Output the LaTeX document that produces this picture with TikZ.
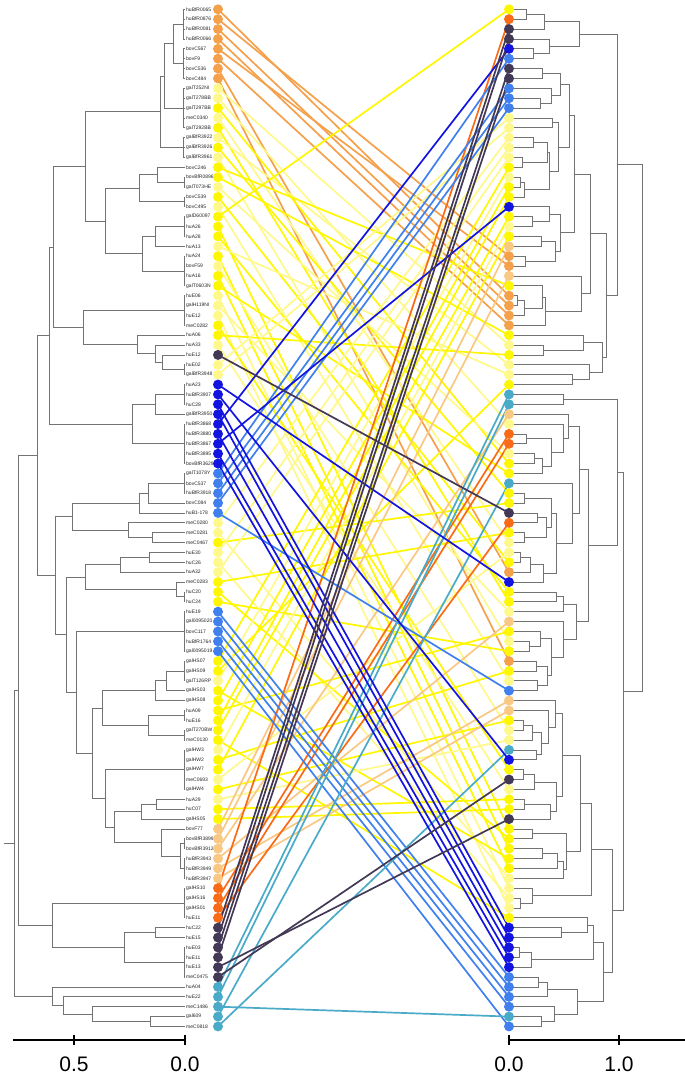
\documentclass[tikz,border=0pt]{standalone}
\usepackage{fontspec}
\setmainfont{Liberation Sans}
\usetikzlibrary{calc}

% Farben der Gruppen
\definecolor{corange}{HTML}{F5A04A}
\definecolor{cpeach}{HTML}{F9C882}
\definecolor{cdorange}{HTML}{F96B16}
\definecolor{cpurple}{HTML}{433856}
\definecolor{cblue}{HTML}{1414E0}
\definecolor{clblue}{HTML}{4080EE}
\definecolor{cteal}{HTML}{4AABC8}
\definecolor{cyellow}{HTML}{FFF700}
\definecolor{clyellow}{HTML}{FFF88A}

\tikzset{
  treeline/.style={draw=black!55, line width=0.8pt},
  link/.style={line width=1.7pt},
  leaflabel/.style={anchor=west, inner sep=0pt, font=\fontsize{5}{5}\selectfont, text=black!85},
  axisline/.style={line width=1.4pt},
  axislabel/.style={inner sep=0pt, font=\fontsize{21}{21}\selectfont}
}

% Ast: Name, Hoehe (x), Kind oben, Kind unten
\newcommand{\clade}[4]{%
  \path (#2,0) coordinate (tmp);
  \draw[treeline] (#3) -- (#3 -| tmp) -- (#4 -| tmp) -- (#4);
  \coordinate (#1) at ($(#3 -| tmp)!0.5!(#4 -| tmp)$);
}
% Buendel von Blaettern: Name, Hoehe, Seite, erstes, letztes
\newcommand{\fan}[5]{%
  \path (#2,0) coordinate (tmp);
  \foreach \k in {#4,...,#5} \draw[treeline] (#3\k) -- (#3\k -| tmp);
  \draw[treeline] (#3#4 -| tmp) -- (#3#5 -| tmp);
  \coordinate (#1) at ($(#3#4 -| tmp)!0.5!(#3#5 -| tmp)$);
}

\begin{document}
\begin{tikzpicture}[x=1pt, y=-1pt]
    \useasboundingbox (0,0) rectangle (685,1077);

    % Blattpositionen
    \foreach \i in {1,...,104} {
        \pgfmathsetmacro\yy{9.3+9.875*(\i-1)}
        \coordinate (l\i) at (185,\yy);
        \coordinate (ld\i) at (218,\yy);
        \coordinate (r\i) at (509,\yy);
    }

    % Beschriftungen links
    \foreach \i/\t in {1/huBfR0065, 2/huBfR0876, 3/huBfR0081, 4/huBfR0066, 5/bovC567, 6/bovF9, 7/bovC536, 8/bovC484,
        9/galT252NI, 10/galT278BB, 11/galT297BB, 12/meC0340, 13/galT292BB, 14/galBfR3922, 15/galBfR3926, 16/galBfR3961,
        17/bovC246, 18/bovBfR0896, 19/galT073HE, 20/bovC539, 21/bovC495, 22/galD60097, 23/huA26, 24/huA28,
        25/huA13, 26/huA24, 27/bovF59, 28/huA16, 29/galT0603N, 30/huE06, 31/galH119NI, 32/huE12,
        33/meC0282, 34/huA06, 35/huA33, 36/huE12, 37/huE02, 38/galBfR3948, 39/huA23, 40/huBfR3907,
        41/huC28, 42/galBfR3950, 43/huBfR3868, 44/huBfR3880, 45/huBfR3867, 46/huBfR3895, 47/bovBfR3629, 48/galT1078Y,
        49/bovC537, 50/huBfR3918, 51/bovC084, 52/huB1-178, 53/meC0280, 54/meC0281, 55/meC0467, 56/huE30,
        57/huC26, 58/huA32, 59/meC0283, 60/huC20, 61/huC24, 62/huE19, 63/gal0095020, 64/bovC117,
        65/huBfR1764, 66/gal0095019, 67/galHS07, 68/galHS09, 69/galT126RP, 70/galHS03, 71/galHS08, 72/huA09,
        73/huE16, 74/galT270BW, 75/meC0130, 76/galHW3, 77/galHW2, 78/galHW7, 79/meC0693, 80/galHW4,
        81/huA29, 82/huC07, 83/galHS05, 84/bovF77, 85/bovBfR3899, 86/bovBfR3912, 87/huBfR3943, 88/huBfR3949,
        89/huBfR3947, 90/galHS10, 91/galHS16, 92/galHS01, 93/huE11, 94/huC22, 95/huE15, 96/huE03,
        97/huE11, 98/huE13, 99/meC0475, 100/huA04, 101/huE22, 102/meC1486, 103/gal609, 104/meC0818}
        \node[leaflabel] (lab\i) at ($(l\i)+(1,0)$) {\t};

    % Baum links
    \fan{La1}{183}{l}{1}{4}
    \fan{La2}{183}{l}{5}{8}
    \clade{La}{173}{La1}{La2}
    \fan{Lb1}{183}{l}{9}{13}
    \fan{Lb2}{183}{l}{14}{16}
    \clade{Lab1}{164}{La}{Lb1}
    \clade{Lab}{160}{Lab1}{Lb2}
    \fan{Lc1}{184}{l}{18}{19}
    \clade{Lc0}{157}{l17}{Lc1}
    \fan{Lc2}{184}{l}{20}{21}
    \clade{Lc}{139.5}{Lc0}{Lc2}
    \fan{Ld1}{184}{l}{22}{24}
    \clade{Ld2}{155}{Ld1}{l25}
    \fan{Ld3}{184}{l}{26}{29}
    \clade{Ld}{142.6}{Ld2}{Ld3}
    \clade{Lcd}{105}{Lc}{Ld}
    \clade{Lt1}{85.5}{Lab}{Lcd}
    \fan{Le0}{184}{l}{30}{33}
    \fan{Le2}{184}{l}{37}{38}
    \clade{Le1}{162.7}{l36}{Le2}
    \clade{Le3}{155.8}{l35}{Le1}
    \clade{Le4}{137}{l34}{Le3}
    \clade{Le}{83.4}{Le0}{Le4}
    \clade{Lt2}{53.3}{Lt1}{Le}
    \fan{Lf1}{184}{l}{39}{41}
    \clade{Lf2}{155}{Lf1}{l42}
    \fan{Lf3}{184}{l}{43}{47}
    \clade{Lf}{132.2}{Lf2}{Lf3}
    \clade{Lt3}{49.5}{Lt2}{Lf}
    \fan{Lh0}{184}{l}{48}{50}
    \clade{Lh1}{148.8}{Lh0}{l51}
    \clade{Lh2}{139.2}{Lh1}{l52}
    \clade{Lh3}{152.5}{l54}{l55}
    \clade{Lh4}{128}{l53}{Lh3}
    \clade{Lh}{72}{Lh2}{Lh4}
    \clade{Li1}{149}{l56}{l57}
    \clade{Li2}{120}{Li1}{l58}
    \fan{Lg0}{184}{l}{60}{61}
    \clade{Lg}{176.7}{l59}{Lg0}
    \clade{Li}{84.9}{Li2}{Lg}
    \fan{Ln0}{184}{l}{62}{66}
    \fan{Lj0}{184}{l}{67}{69}
    \clade{Lj1}{166}{Lj0}{l70}
    \clade{Lj2}{155.3}{Lj1}{l71}
    \fan{Lj3a}{184}{l}{72}{73}
    \fan{Lj3b}{184}{l}{74}{75}
    \clade{Lj3}{148}{Lj3a}{Lj3b}
    \clade{Lj}{102.4}{Lj2}{Lj3}
    \fan{Lk0}{184}{l}{76}{80}
    \clade{Lk1}{156}{l81}{l82}
    \clade{Lk2}{141.7}{Lk1}{l83}
    \fan{Lm1}{184}{l}{85}{86}
    \fan{Lm2}{184}{l}{87}{89}
    \clade{Lm3}{180}{Lm1}{Lm2}
    \clade{Lm}{161.7}{l84}{Lm3}
    \clade{Lk}{114.3}{Lk2}{Lm}
    \clade{Ljk0}{105.2}{Lk0}{Lk}
    \clade{Ljk}{91.9}{Lj}{Ljk0}
    \clade{Ln}{76.1}{Ln0}{Ljk}
    \clade{Lo}{66.6}{Li}{Ln}
    \clade{Lp}{55.4}{Lh}{Lo}
    \clade{Lq}{37.4}{Lt3}{Lp}
    \fan{Lr1}{184}{l}{90}{93}
    \clade{Ls2}{155.3}{l94}{l95}
    \fan{Ls1}{184}{l}{96}{99}
    \clade{Ls3}{124.5}{Ls2}{Ls1}
    \clade{Lr}{52.6}{Lr1}{Ls3}
    \clade{Lu}{18.2}{Lq}{Lr}
    \clade{Lv1}{150.8}{l103}{l104}
    \clade{Lv2}{92}{l102}{Lv1}
    \clade{Lv3}{63.8}{l101}{Lv2}
    \clade{Lv}{51.9}{l100}{Lv3}
    \clade{Lroot}{14}{Lu}{Lv}
    \draw[treeline] (Lroot) -- ++(-10,0);

    % Baum rechts
    \clade{Rq1}{526}{r1}{r2}
    \clade{Rq2}{544}{Rq1}{r3}
    \clade{Rq3}{533}{r5}{r6}
    \clade{Rq4}{549}{r4}{Rq3}
    \clade{Rq5}{579}{Rq2}{Rq4}
    \clade{Rq6}{542}{r7}{r8}
    \clade{Rq7}{540}{r10}{r11}
    \clade{Rq8}{551}{r9}{Rq7}
    \clade{Rq9}{560}{Rq6}{Rq8}
    \clade{Rq10}{552}{r12}{r13}
    \clade{Rq11}{533}{r14}{r15}
    \clade{Rq12}{522}{r16}{r17}
    \clade{Rq13}{547}{Rq11}{Rq12}
    \clade{Rq14}{520}{r18}{r19}
    \clade{Rq15}{524}{Rq14}{r20}
    \clade{Rq16}{549}{Rq13}{Rq15}
    \clade{Rq17}{558}{Rq10}{Rq16}
    \clade{Rq18}{569}{Rq9}{Rq17}
    \clade{Rq19}{532}{r22}{r23}
    \clade{Rq20}{549}{r21}{Rq19}
    \clade{Rq21}{541}{r24}{r25}
    \clade{Rq22}{525}{r26}{r27}
    \clade{Rq23}{555}{Rq21}{Rq22}
    \clade{Rq24}{560}{Rq20}{Rq23}
    \clade{Rq25}{574}{Rq18}{Rq24}
    \clade{Rq26}{517}{r30}{r31}
    \clade{Rq27}{524}{Rq26}{r32}
    \clade{Rq28}{542}{r29}{Rq27}
    \clade{Rq29}{545}{Rq28}{r33}
    \clade{Rq30}{581}{r28}{Rq29}
    \clade{Rq31}{590}{Rq25}{Rq30}
    \clade{Rq32}{543}{r35}{r36}
    \clade{Rq33}{583}{r34}{Rq32}
    \clade{Rq34}{572}{r38}{r39}
    \clade{Rq35}{589}{r37}{Rq34}
    \clade{Rq36}{602}{Rq33}{Rq35}
    \clade{Rq37}{606}{Rq31}{Rq36}
    \clade{Rq38}{617}{Rq5}{Rq37}
    \clade{Rp1}{563}{r40}{r41}
    \clade{Rp2}{526}{r44}{r45}
    \clade{Rp3}{534}{r46}{r47}
    \clade{Rp4}{542}{Rp3}{r48}
    \clade{Rp5}{551}{Rp2}{Rp4}
    \clade{Rp6}{563}{r43}{Rp5}
    \clade{Rp7}{568}{r42}{Rp6}
    \clade{Rp8}{524}{r50}{r51}
    \clade{Rp9}{537}{r52}{r53}
    \clade{Rc1}{524}{r54}{r55}
    \clade{Rp9b}{546}{Rp9}{Rc1}
    \clade{Rp10}{551}{Rp8}{Rp9b}
    \clade{Rc2}{520}{r56}{r57}
    \clade{Rc3}{530}{Rc2}{r58}
    \clade{Rc4}{543}{Rc3}{r59}
    \clade{Rp10b}{556}{Rp10}{Rc4}
    \clade{Rp11}{572}{r49}{Rp10b}
    \clade{Rp12}{579}{Rp7}{Rp11}
    \clade{Rc6}{556}{r60}{r61}
    \clade{Rc7}{563}{Rc6}{r62}
    \clade{Rc8}{529}{r65}{r66}
    \clade{Rc9}{540}{r64}{Rc8}
    \clade{Rc10}{536}{r67}{r68}
    \clade{Rc11}{537}{r69}{r70}
    \clade{Rc12}{547}{Rc10}{Rc11}
    \clade{Rc13}{551}{Rc9}{Rc12}
    \clade{Rc14}{563}{r63}{Rc13}
    \clade{Rc15}{576}{Rc7}{Rc14}
    \clade{Rp13}{588}{Rp12}{Rc15}
    \clade{Rp14}{617}{Rp1}{Rp13}
    \clade{Rd1}{523}{r73}{r74}
    \clade{Rd2}{532}{Rd1}{r75}
    \clade{Rd3}{536}{r76}{r77}
    \clade{Rd4}{541}{Rd2}{Rd3}
    \clade{Rd5}{548}{r72}{Rd4}
    \clade{Rd6}{555}{r71}{Rd5}
    \clade{Rd7}{523}{r78}{r79}
    \clade{Rd8}{534}{Rd7}{r80}
    \clade{Rd9}{524}{r81}{r82}
    \clade{Rd10}{550}{Rd9}{r83}
    \clade{Rd11}{556}{Rd8}{Rd10}
    \clade{Rd12}{562}{Rd6}{Rd11}
    \clade{Re1}{532}{r84}{r85}
    \clade{Re2}{542}{r86}{r87}
    \clade{Re3}{557}{Re2}{r88}
    \clade{Re4}{563}{Re3}{r89}
    \clade{Re5}{566}{Re1}{Re4}
    \clade{Re6}{580}{Rd12}{Re5}
    \clade{Re7}{520}{r91}{r92}
    \clade{Re8}{532}{r90}{Re7}
    \clade{Re9}{591}{Re6}{Re8}
    \clade{Re10}{561}{r94}{r95}
    \clade{Re11}{587}{r93}{Re10}
    \clade{Re12}{519}{r96}{r97}
    \clade{Re13}{531}{Re12}{r98}
    \clade{Re14}{593}{Re11}{Re13}
    \clade{Re15}{538}{r99}{r100}
    \clade{Re16}{547}{Re15}{r101}
    \clade{Re17}{541}{r103}{r104}
    \clade{Re18}{554}{r102}{Re17}
    \clade{Re19}{577}{Re16}{Re18}
    \clade{Re20}{603}{Re14}{Re19}
    \clade{Re21}{612}{Re9}{Re20}
    \clade{Rbb}{623}{Rp14}{Re21}
    \clade{Rroot}{642}{Rq38}{Rbb}

    % Verbindungen: links/rechts/Farbe
    \def\linklist{1/30/corange, 2/26/corange, 3/31/corange, 4/32/corange, 5/27/corange, 6/33/corange, 7/58/corange, 8/67/corange,
        9/35/clyellow, 10/43/clyellow, 11/47/cyellow, 12/55/clyellow, 13/61/cyellow, 14/37/clyellow, 15/50/cyellow, 16/65/clyellow,
        17/29/cyellow, 18/34/cyellow, 19/46/clyellow, 20/57/cyellow, 21/69/clyellow, 22/1/cyellow, 23/84/cyellow, 24/60/cyellow,
        25/38/clyellow, 26/86/cyellow, 27/74/clyellow, 28/88/cyellow, 29/48/cyellow, 30/90/clyellow, 31/62/clyellow, 32/92/clyellow,
        33/78/cyellow, 34/36/cyellow, 35/80/clyellow, 37/12/clyellow, 38/13/clyellow, 53/14/clyellow, 54/89/clyellow, 55/51/cyellow,
        56/15/clyellow, 57/91/clyellow, 58/16/clyellow, 59/54/cyellow, 60/85/cyellow, 61/66/cyellow, 67/17/cyellow, 68/39/cyellow,
        69/18/clyellow, 70/87/cyellow, 71/19/cyellow, 72/64/cyellow, 73/20/cyellow, 74/22/cyellow, 75/93/cyellow, 76/23/clyellow,
        77/68/cyellow, 78/24/cyellow, 79/56/clyellow, 80/73/cyellow, 81/75/clyellow, 82/81/cyellow, 83/82/cyellow,
        84/25/cpeach, 85/28/cpeach, 86/42/cpeach, 87/63/cpeach, 88/71/cpeach, 89/72/cpeach,
        90/2/cdorange, 91/44/cdorange, 92/45/cdorange, 93/53/cdorange,
        48/6/clblue, 49/9/clblue, 50/10/clblue, 51/11/clblue, 52/70/clblue,
        62/99/clblue, 63/100/clblue, 64/101/clblue, 65/102/clblue, 66/104/clblue,
        100/40/cteal, 101/41/cteal, 102/103/cteal, 103/49/cteal, 104/76/cteal,
        39/59/cblue, 40/77/cblue, 41/94/cblue, 42/95/cblue, 43/5/cblue, 44/96/cblue, 45/21/cblue, 46/97/cblue, 47/98/cblue,
        36/52/cpurple, 94/3/cpurple, 95/4/cpurple, 96/7/cpurple, 97/8/cpurple, 98/83/cpurple, 99/79/cpurple}
    \foreach \a/\b/\c in \linklist
        \draw[link, \c] (ld\a) -- (r\b);
    \foreach \a/\b/\c in \linklist {
        \fill[\c] (ld\a) circle (5);
        \fill[\c] (r\b) circle (5);
    }

    % Achsen
    \coordinate (axLa) at (13,1040);
    \coordinate (axLb) at (185,1040);
    \coordinate (axRa) at (509,1040);
    \coordinate (axRb) at (685,1040);
    \draw[axisline] (axLa) -- (axLb);
    \draw[axisline] (axRa) -- (axRb);
    \foreach \x in {74,185,509,619}
        \draw[axisline] (\x,1035) -- (\x,1045);
    \node[axislabel] (tkL5) at (74,1064) {0.5};
    \node[axislabel] (tkL0) at (185,1064) {0.0};
    \node[axislabel] (tkR0) at (509,1064) {0.0};
    \node[axislabel] (tkR1) at (619,1064) {1.0};

\end{tikzpicture}
\end{document}
